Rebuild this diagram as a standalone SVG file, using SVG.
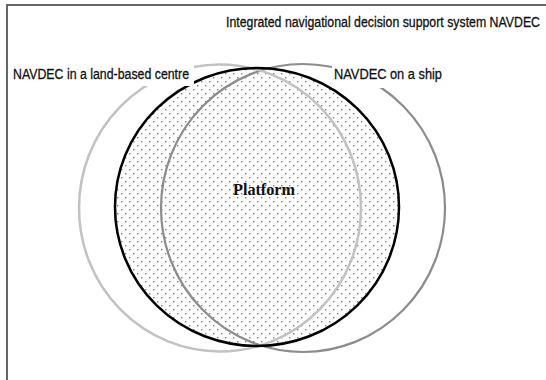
<svg xmlns="http://www.w3.org/2000/svg" width="546" height="380" viewBox="0 0 546 380">
  <defs>
    <!-- sparse stipple used for the shared platform area -->
    <pattern id="dots" width="8" height="8" patternUnits="userSpaceOnUse">
      <rect x="1" y="1" width="1.4" height="1.4" fill="#7d7d7d"/>
      <rect x="5" y="5" width="1.4" height="1.4" fill="#7d7d7d"/>
    </pattern>
  </defs>
  <style>
    .label { font-family: "Liberation Sans", Arial, sans-serif; font-size: 12.3px; fill: #111; stroke: #111; stroke-width: 0.25; }
    .core { font-family: "Liberation Serif", "Times New Roman", serif; font-size: 17px; font-weight: bold; fill: #111; }
    .ring { fill: none; }
    .bg { fill: #ffffff; }
  </style>

  <rect x="0" y="0" width="546" height="380" fill="#ffffff"/>

  <!-- outer frame (top and left edges) -->
  <g id="frame" fill="none" stroke="#666666" stroke-width="2">
    <polyline points="7,380 7,5 546,5"/>
  </g>

  <!-- stippled platform area -->
  <g id="platform-fill">
    <ellipse cx="257" cy="207" rx="142" ry="139" fill="url(#dots)"/>
  </g>

  <!-- NAVDEC on a ship -->
  <g id="ship">
    <ellipse class="ring" cx="303" cy="208" rx="142" ry="144" stroke="#8c8c8c" stroke-width="2.2"/>
  </g>

  <!-- NAVDEC in a land-based centre -->
  <g id="land-based">
    <ellipse class="ring" cx="220" cy="208" rx="141" ry="143.5" stroke="#c2c2c2" stroke-width="2.5"/>
  </g>

  <!-- Platform -->
  <g id="platform">
    <ellipse class="ring" cx="257" cy="207" rx="142" ry="139" stroke="#000000" stroke-width="2.5"/>
    <text class="core" x="233" y="195" textLength="62" lengthAdjust="spacingAndGlyphs">Platform</text>
  </g>

  <!-- labels: tall, narrow lettering (vertical stretch) -->
  <g id="labels">
    <rect class="bg" x="10" y="62" width="184" height="24"/>
    <text class="label" transform="translate(13,79) scale(1,1.26)" textLength="176" lengthAdjust="spacingAndGlyphs">NAVDEC in a land-based centre</text>
    <rect class="bg" x="332" y="62" width="114" height="26"/>
    <text class="label" transform="translate(334,79) scale(1,1.26)" textLength="108" lengthAdjust="spacingAndGlyphs">NAVDEC on a ship</text>
    <text id="title" class="label" transform="translate(226,27) scale(1,1.26)" textLength="314" lengthAdjust="spacingAndGlyphs">Integrated navigational decision support system NAVDEC</text>
  </g>
</svg>
